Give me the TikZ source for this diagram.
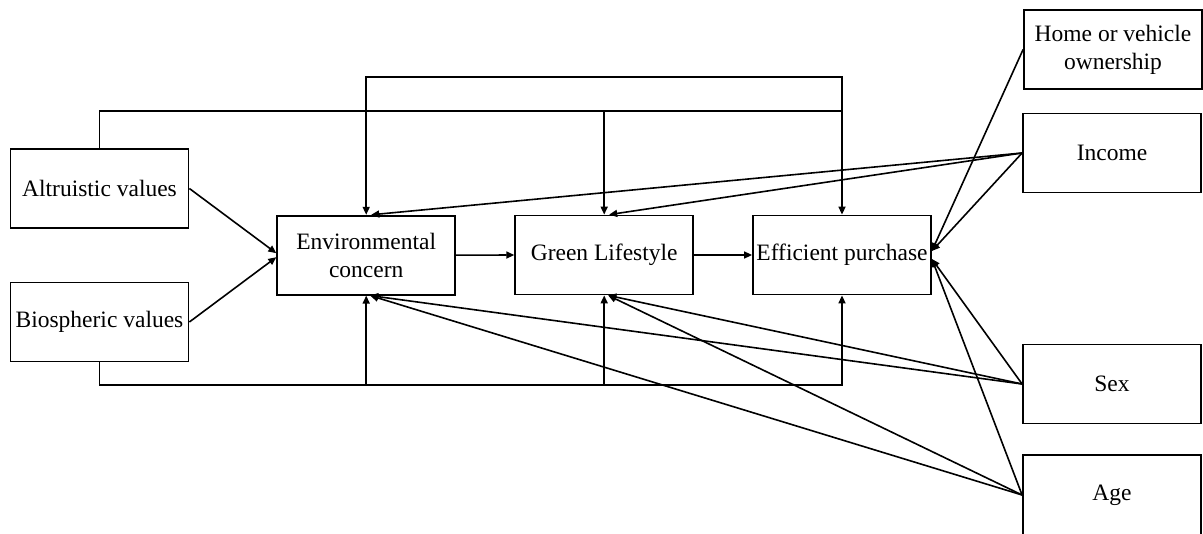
\documentclass[tikz,border=0pt]{standalone}
\usepackage{fontspec}
\setmainfont{Liberation Serif}
\usetikzlibrary{arrows.meta,calc}
\begin{document}
\begin{tikzpicture}[x=1pt,y=-1pt,
  box/.style={draw,line width=1.8pt,rectangle,inner sep=0pt,align=center,
    minimum width=178pt,minimum height=79pt,
    font=\fontsize{23.5}{28}\selectfont},
  arr/.style={line width=1.6pt,-{Triangle[length=8pt,width=7pt]}},
  ln/.style={line width=1.6pt}]
\useasboundingbox (0,0) rectangle (1203,534);
\node[box] (alt) at (99.5,188.5) {Altruistic values};
\node[box] (bio) at (99.5,322) {Biospheric values};
\node[box] (env) at (366.2,255.2) {Environmental\\concern};
\node[box] (green) at (604.2,255) {Green Lifestyle};
\node[box] (eff) at (842,255) {Efficient purchase};
\node[box] (home) at (1113,49.5) {Home or vehicle\\ownership};
\node[box] (income) at (1112,153) {Income};
\node[box] (sex) at (1112,384) {Sex};
\node[box,minimum height=80pt] (age) at (1112,495) {Age};
\coordinate (ytop) at (0,77);
\coordinate (ymid) at (0,111);
\coordinate (ybot) at (0,385);
% top routed lines
\draw[arr] (alt.north) -- (alt.north |- ymid) -- (green.north |- ymid) -- (green.north);
\draw[arr] (alt.north) -- (alt.north |- ymid) -- (eff.north |- ymid) -- (eff.north);
\draw[arr] (eff.north |- ymid) -- (eff.north |- ytop) -- (env.north |- ytop) -- (env.north);
% bottom routed lines
\draw[arr] (bio.south) -- (bio.south |- ybot) -- (env.south |- ybot) -- (env.south);
\draw[arr] (bio.south) -- (bio.south |- ybot) -- (green.south |- ybot) -- (green.south);
\draw[arr] (bio.south) -- (bio.south |- ybot) -- (eff.south |- ybot) -- (eff.south);
% direct paths
\draw[arr] (alt.east) -- ([yshift=2pt]env.west);
\draw[arr] (bio.east) -- ([yshift=-2pt]env.west);
\draw[arr] (env.east) -- (green.west);
\draw[arr] (green.east) -- (eff.west);
% covariates
\draw[arr] (home.west) -- ([yshift=4pt]eff.east);
\draw[arr] (income.west) -- ([yshift=4pt]eff.east);
\draw[arr] (income.west) -- ([xshift=5pt]env.north);
\draw[arr] (income.west) -- ([xshift=5pt]green.north);
\draw[arr] (sex.west) -- ([yshift=-4pt]eff.east);
\draw[arr] (sex.west) -- ([xshift=4pt]env.south);
\draw[arr] (sex.west) -- ([xshift=4pt]green.south);
\draw[arr] (age.west) -- ([yshift=-4pt]eff.east);
\draw[arr] (age.west) -- ([xshift=4pt]env.south);
\draw[arr] (age.west) -- ([xshift=4pt]green.south);
\end{tikzpicture}
\end{document}
